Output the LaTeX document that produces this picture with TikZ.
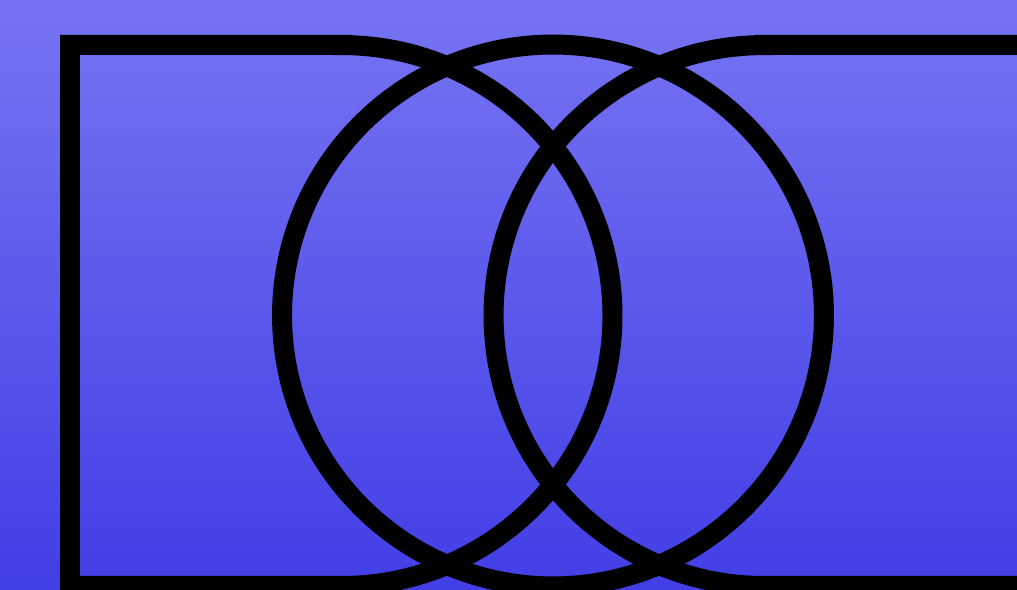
\documentclass[tikz,border=0pt]{standalone}
\usepackage{tikz}

\definecolor{bgtop}{RGB}{118,116,242}
\definecolor{bgbottom}{RGB}{66,62,230}

\tikzset{
  outline/.style={draw=black, line width=0.4cm, line join=miter},
}

\begin{document}
\begin{tikzpicture}[x=0.02cm, y=0.02cm]
  % Cadre et fond
  \useasboundingbox (0,0) rectangle (1017,590);
  \clip (0,0) rectangle (1017,590);
  \shade[top color=bgtop, bottom color=bgbottom] (0,0) rectangle (1017,590);
  % Forme en D gauche
  \draw[outline] (342,545) -- (70,545) -- (70,4) -- (342,4)
    arc[start angle=-90, end angle=90, radius=5.41cm] -- cycle;
  % Cercle central
  \draw[outline] (553,274.5) circle[radius=5.42cm];
  % Forme en D droite
  \draw[outline] (764,545) -- (1040,545) -- (1040,4) -- (764,4)
    arc[start angle=270, end angle=90, radius=5.41cm] -- cycle;
\end{tikzpicture}
\end{document}
